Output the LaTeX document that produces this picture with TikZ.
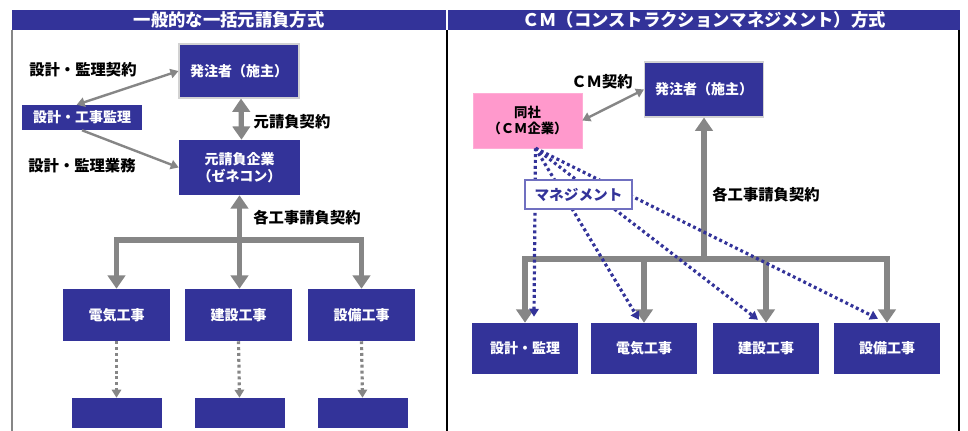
\documentclass[tikz,border=0pt]{standalone}
\usepackage{fontspec}
\setmainfont{Noto Sans CJK JP}
\usetikzlibrary{arrows.meta}
\definecolor{navy}{HTML}{333399}
\definecolor{pinkbox}{HTML}{FF99CC}
\definecolor{arrgray}{HTML}{868686}
\definecolor{mgborder}{HTML}{7070C0}
\tikzset{
  BT/.tip={Triangle[width=13pt,length=10pt]},
  ST/.tip={Triangle[width=7pt,length=6pt]},
  box/.style={fill=navy, text=white, font=\bfseries\fontsize{10.5}{13}\selectfont, align=center, inner sep=0pt},
  hdr/.style={fill=navy, text=white, font=\bfseries\fontsize{13}{15}\selectfont, inner sep=0pt, minimum height=15pt},
  lbl/.style={font=\bfseries\fontsize{11.5}{14}\selectfont, text=black, inner sep=0pt},
  bigarrow/.style={draw=arrgray, line width=4pt},
  thinarrow/.style={draw=arrgray, line width=1.8pt},
  grayDots/.style={draw=arrgray, line width=2.4pt, dash pattern=on 2.2pt off 2.2pt},
  navyDots/.style={draw=navy, line width=2.4pt, dash pattern=on 2.2pt off 2.2pt},
}
\begin{document}
\begin{tikzpicture}[x=0.75pt,y=-0.75pt]
\useasboundingbox (0,0) rectangle (968,431);
% headers
\node[hdr, minimum width=325.5pt] (hdrL) at (229,20) {一般的な一括元請負方式};
\node[hdr, minimum width=384pt] (hdrR) at (704,20) {ＣＭ（コンストラクションマネジメント）方式};
% frame lines
\draw[arrgray, line width=1pt] (12,30) -- (12,431);
\draw[black, line width=1.3pt] (447,30) -- (447,431);
\draw[black, line width=1.3pt] (959,30) -- (959,431);

% ---------- left panel ----------
\node[box, draw=gray!35, line width=0.8pt, minimum width=90pt, minimum height=40.5pt] (hL) at (239,71) {発注者（施主）};
\node[box, minimum width=90pt, minimum height=18.75pt] (kanri) at (82,117.5) {設計・工事監理};
\node[box, minimum width=90.75pt, minimum height=41.25pt] (moto) at (239.5,167.5) {元請負企業\\（ゼネコン）};
\node[box, minimum width=80.25pt, minimum height=39pt] (den) at (116.5,315) {電気工事};
\node[box, minimum width=80.25pt, minimum height=39pt] (ken) at (238.5,315) {建設工事};
\node[box, minimum width=80.25pt, minimum height=39pt] (setsu) at (361.5,315) {設備工事};
\node[box, minimum width=67.5pt, minimum height=22.5pt] (bd) at (116.5,413) {};
\node[box, minimum width=67.5pt, minimum height=22.5pt] (bk) at (239.5,413) {};
\node[box, minimum width=67.5pt, minimum height=22.5pt] (bs) at (362.5,413) {};

\node[lbl] (l1) at (83,70) {設計・監理契約};
\node[lbl] (l2) at (82,166) {設計・監理業務};
\node[lbl] (l3) at (292,122) {元請負契約};
\node[lbl] (l4) at (307,218) {各工事請負契約};

\coordinate (busL) at (0,240);
\draw[thinarrow, ST-ST] ([xshift=-4pt]kanri.north) -- (hL.west);
\draw[thinarrow, -ST] (kanri.south) -- (moto.west);
\draw[bigarrow, BT-BT] ([xshift=1.5pt]hL.south) -- ([xshift=1.5pt]moto.north);
\draw[bigarrow, BT-BT] (moto.south) -- (moto.south |- ken.north);
\draw[bigarrow, BT-BT, line join=miter] (den.north) -- (den.north |- busL) -- (setsu.north |- busL) -- (setsu.north);
\draw[grayDots, -ST] (den.south) -- (bd.north);
\draw[grayDots, -ST] (ken.south) -- (bk.north);
\draw[grayDots, -ST] (setsu.south) -- (bs.north);

% ---------- right panel ----------
\node[box, draw=gray!35, line width=0.8pt, minimum width=89.25pt, minimum height=41.25pt] (hR) at (704,89.5) {発注者（施主）};
\node[box, fill=pinkbox, draw=pinkbox!80!white, text=black, font=\bfseries\fontsize{10}{12.5}\selectfont, minimum width=81.75pt, minimum height=41.25pt] (cm) at (527.5,120.5) {同社\\（ＣＭ企業）};
\node[box, minimum width=79.5pt, minimum height=38.25pt] (r1) at (525,348.5) {設計・監理};
\node[box, minimum width=79.5pt, minimum height=38.25pt] (r2) at (644,348.5) {電気工事};
\node[box, minimum width=79.5pt, minimum height=38.25pt] (r3) at (766,348.5) {建設工事};
\node[box, minimum width=79.5pt, minimum height=38.25pt] (r4) at (887,348.5) {設備工事};

\node[lbl] (l5) at (602,82) {ＣＭ契約};
\node[lbl] (l6) at (766,195) {各工事請負契約};

\coordinate (busR) at (0,259);
\draw[thinarrow, ST-ST] (cm.east) -- (hR.west);
\draw[bigarrow, -BT] (hR.south |- busR) -- (hR.south);
\draw[bigarrow, BT-BT, line join=miter] (r1.north) -- (r1.north |- busR) -- (r4.north |- busR) -- (r4.north);
\draw[bigarrow, -BT] (r2.north |- busR) -- (r2.north);
\draw[bigarrow, -BT] (r3.north |- busR) -- (r3.north);

\coordinate (cmS) at ([xshift=6pt]cm.south);
\draw[navyDots, -ST] (cmS) -- ([xshift=6.75pt,yshift=4.5pt]r1.north);
\draw[navyDots, -ST] (cmS) -- ([xshift=-3.75pt,yshift=2.25pt]r2.north);
\draw[navyDots, -ST] (cmS) -- ([xshift=-6pt,yshift=2.25pt]r3.north);
\draw[navyDots, -ST] (cmS) -- ([xshift=-6.75pt,yshift=3pt]r4.north);

\node[draw=mgborder, line width=0.8pt, fill=white, text=navy, font=\bfseries\fontsize{11}{13}\selectfont, inner sep=0pt, minimum width=80.25pt, minimum height=21.75pt] (mg) at (578.5,194.5) {マネジメント};
\end{tikzpicture}
\end{document}
